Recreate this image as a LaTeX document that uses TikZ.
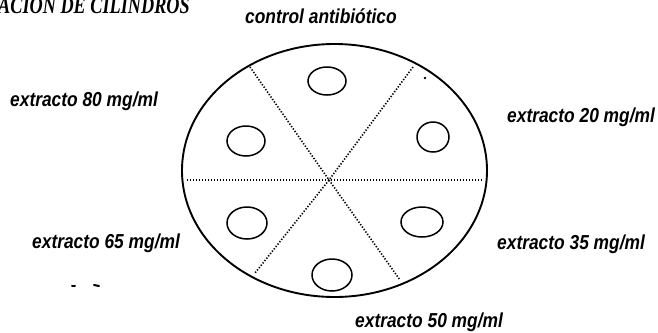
\documentclass[tikz,border=0pt]{standalone}
\usepackage{fontspec}
\setmainfont{Liberation Sans}
\newfontfamily\titlefont{Liberation Serif}
\usetikzlibrary{shapes.geometric,positioning}
\newcommand{\narrow}[1]{\scalebox{0.86}[1]{#1}}
\tikzset{
  plate/.style  = {line width=1.9bp},
  well/.style   = {ellipse, draw, line width=1.5bp, inner sep=0pt},
  sector/.style = {line width=1.6bp, dash pattern=on 1.3bp off 1.7bp},
  lbl/.style    = {anchor=base west, inner sep=0pt,
                   font=\fontsize{20.2bp}{22bp}\selectfont\bfseries\itshape},
  speck/.style  = {line width=2bp, line cap=round},
}

\begin{document}
\begin{tikzpicture}[x=1bp,y=1bp]
  \clip (0,0) rectangle (658,-332);
  \useasboundingbox (0,0) rectangle (658,-332);
  % title, cut at the top edge
  \node[anchor=base west, inner sep=0pt] (title) at (-2,-13)
    {\scalebox{0.76}[1]{\fontsize{24bp}{26bp}\selectfont\titlefont\bfseries\itshape ACION DE CILINDROS}};
  % plate
  \coordinate (C) at (329,-180);
  \draw[plate] (334.5,-170.5) ellipse [x radius=152.5, y radius=126.5];
  \coordinate (ul) at (250,-67);
  \coordinate (ur) at (413,-67);
  \coordinate (ll) at (255,-273);
  \coordinate (lr) at (400,-280);
  \coordinate (hl) at (187,-180);
  \coordinate (hr) at (482,-180);
  \draw[sector] (hl) -- (hr);
  \draw[sector] (ul) -- (C) -- (lr);
  \draw[sector] (ur) -- (C) -- (ll);
  % wells
  \node[well, minimum width=38bp, minimum height=28bp] (w0)  at (327,-81)  {};
  \node[well, minimum width=38bp, minimum height=30bp] (w80) at (246,-141) {};
  \node[well, minimum width=32bp, minimum height=30bp] (w20) at (433,-137) {};
  \node[well, minimum width=40bp, minimum height=32bp] (w65) at (247,-223) {};
  \node[well, minimum width=42bp, minimum height=30bp] (w35) at (422,-222) {};
  \node[well, minimum width=40bp, minimum height=32bp] (w50) at (332,-275) {};
  \fill (425,-78) circle (1.4);
  % labels
  \node[lbl] (l0)  at (245,-23)  {\narrow{control antibiótico}};
  \node[lbl] (l80) at (10,-106)  {\narrow{extracto 80 mg/ml}};
  \node[lbl] (l20) at (507,-122) {\narrow{extracto 20 mg/ml}};
  \node[lbl] (l65) at (32,-248)  {\narrow{extracto 65 mg/ml}};
  \node[lbl] (l35) at (497,-249) {\narrow{extracto 35 mg/ml}};
  \node[lbl] (l50) at (355,-327) {\narrow{extracto 50 mg/ml}};
  % specks
  \draw[speck] (72,-286) -- (75,-286);
  \draw[speck] (94,-285) -- (99,-286);
\end{tikzpicture}
\end{document}
